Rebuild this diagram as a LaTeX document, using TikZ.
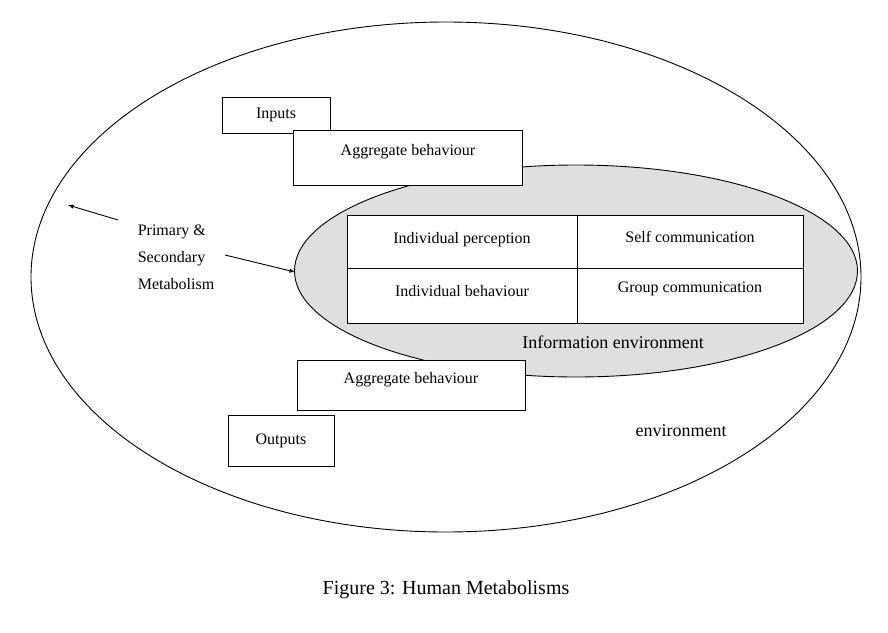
\documentclass[tikz,border=0pt]{standalone}
\usepackage{fontspec}
\usetikzlibrary{shapes.geometric}
\setmainfont{Liberation Serif}
\begin{document}
\begin{tikzpicture}[x=1pt,y=-1pt,
  box/.style={draw,fill=white,line width=0.9pt,inner sep=0pt},
  lbl/.style={font=\fontsize{16}{19}\selectfont},
  arr/.style={-latex,line width=0.9pt}]
\useasboundingbox (0,0) rectangle (888,632);
\node[draw,ellipse,line width=0.9pt,minimum width=830,minimum height=510,inner sep=0] (env) at (446,277) {};
\node[draw,ellipse,fill=gray!25,line width=0.9pt,minimum width=563,minimum height=212,inner sep=0] (info) at (576,271) {};
\draw[line width=0.9pt,fill=white] (347,215) rectangle (803,323);
\draw[line width=0.9pt] (577,215) -- (577,323) (347,268) -- (803,268);
\node[lbl] (ip) at (462,240) {Individual perception};
\node[lbl] (sc) at (690,237) {Self communication};
\node[lbl] (ib) at (462,291) {Individual behaviour};
\node[lbl] (gc) at (690,289) {Group communication};
\node[box,minimum width=108,minimum height=36,lbl] (in) at (276,115) {Inputs};
\node[box,minimum width=229,minimum height=55,lbl] (ag1) at (407.5,157.5) {};
\node[lbl] at (408,152) {Aggregate behaviour};
\node[box,minimum width=228,minimum height=50,lbl] (ag2) at (411,385) {};
\node[lbl] at (411,380) {Aggregate behaviour};
\node[box,minimum width=106,minimum height=51,lbl] (out) at (281,440.5) {Outputs};
\node[lbl,align=left] (pm) at (176,257) {Primary \&\\[8pt]Secondary\\[8pt]Metabolism};
\node[font=\fontsize{18}{21}\selectfont] (ie) at (613,342) {Information environment};
\node[font=\fontsize{18}{21}\selectfont] (e) at (681,431) {environment};
\coordinate (a1) at (118,220); \coordinate (a1e) at (68,205);
\coordinate (a2) at (225,255); \coordinate (a2e) at (295,272);
\draw[arr] (a1) -- (a1e);
\draw[arr] (a2) -- (a2e);
\node[font=\fontsize{20}{24}\selectfont] (cap) at (446,590) {Figure 3: Human Metabolisms};
\end{tikzpicture}
\end{document}
